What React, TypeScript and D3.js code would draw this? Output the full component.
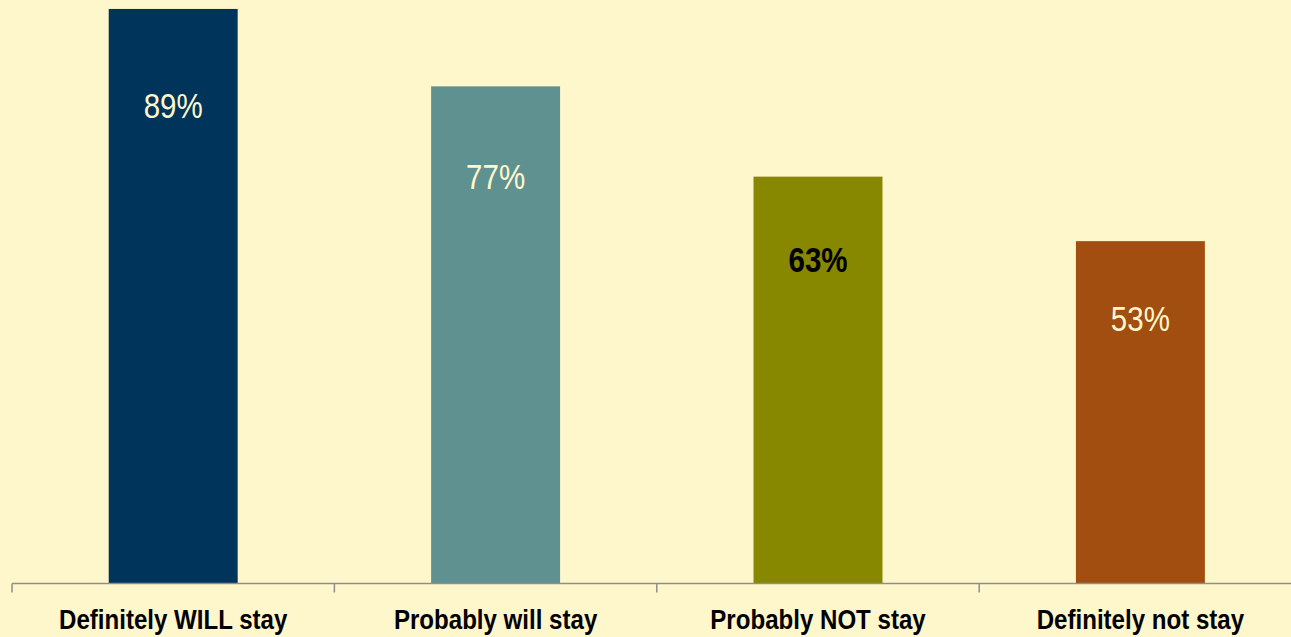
import React from "react";
import * as d3 from "d3";

const categories = ["Definitely WILL stay", "Probably will stay", "Probably NOT stay", "Definitely not stay"];
const values = [89, 77, 63, 53];
const barColors = ["#00345A", "#5F9190", "#878700", "#A14E10"];
const labelColors = ["#FFF7CC", "#FFF7CC", "#000000", "#FFF7CC"];
const labelWeights = ["normal", "normal", "bold", "normal"];

const W = 1291;
const H = 637;
const BG = "#FFF7CC";
const FONT = "'Liberation Sans', Arial, sans-serif";

export default function App() {
  const x = d3.scaleBand<string>().domain(categories).range([12, 1301.6]).paddingInner(0).paddingOuter(0);
  const y = d3.scaleLinear().domain([0, 100]).range([583, -62]);
  const barW = x.bandwidth() * 0.4;
  const ticks = [...categories.map((c) => x(c) as number), 1301.6];

  return (
    <svg width={W} height={H} style={{ position: "fixed", left: 0, top: 0, display: "block" }}>
      <rect x={0} y={0} width={W} height={H} fill={BG} />
      {categories.map((c, i) => {
        const cx = (x(c) as number) + x.bandwidth() / 2;
        const top = y(values[i]);
        return (
          <g key={c}>
            <rect x={cx - barW / 2} y={top} width={barW} height={y(0) - top} fill={barColors[i]} />
            <text
              transform={`translate(${cx},${y(values[i] * 0.914) + 60}) scale(0.82,1)`}
              textAnchor="middle"
              fontFamily={FONT}
              fontSize={36}
              fontWeight={labelWeights[i]}
              fill={labelColors[i]}
            >
              {values[i]}%
            </text>
            <text
              transform={`translate(${cx},629) scale(0.86,1)`}
              textAnchor="middle"
              fontFamily={FONT}
              fontSize={28}
              fontWeight="bold"
              fill="#000"
            >
              {c}
            </text>
          </g>
        );
      })}
      <line x1={12} x2={W} y1={583.5} y2={583.5} stroke="#8E8E8E" strokeWidth={1.5} />
      {ticks.map((t, i) => (
        <line key={i} x1={t} x2={t} y1={583.5} y2={592.5} stroke="#8E8E8E" strokeWidth={1.5} />
      ))}
    </svg>
  );
}
